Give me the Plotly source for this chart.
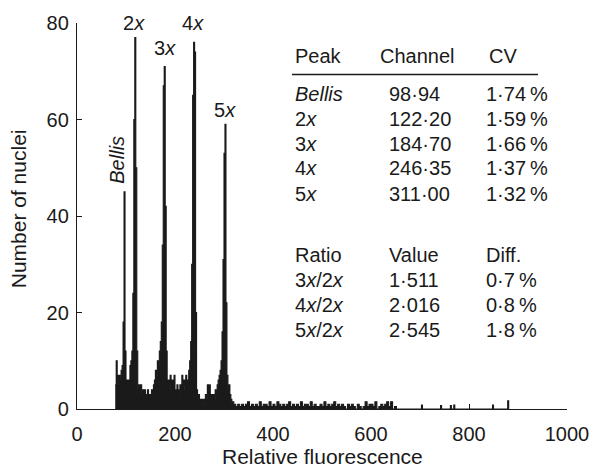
import plotly.graph_objects as go

# ---------------- data ----------------
# main region: 2-channel bins starting at channel 78
core_start = 78
core_width = 2
core_counts = [
    5, 10, 5, 7, 6, 7, 8, 9, 18, 45,      # 78-96
    12, 6, 4, 6, 5, 9, 10, 12, 24, 60,    # 98-116
    77, 50, 12, 4, 5, 4, 5, 3, 4, 3,      # 118-136
    4, 3, 2, 4, 3, 3, 2, 4, 3, 5,         # 138-156
    6, 8, 7, 10, 9, 12, 14, 18, 34, 67,   # 158-176
    71, 42, 12, 5, 6, 4, 7, 5, 6, 4,      # 178-196
    7, 3, 4, 5, 3, 4, 5, 3, 7, 5,         # 198-216
    6, 4, 7, 5, 6, 8, 10, 14, 30, 65,     # 218-236
    76, 74, 20, 4, 2, 3, 2, 1, 2, 2,      # 238-256
    1, 2, 3, 2, 5, 3, 5, 2, 3, 2,         # 258-276
    3, 2, 4, 3, 5, 6, 7, 8, 10, 16,       # 278-296
    31, 53, 59, 22, 7, 4, 5, 3, 2,        # 298-314
]

# low tail: 4-channel bins starting at channel 316
tail_start = 316
tail_width = 4
tail_counts = [
    1.5, 1, 0.5, 1, 0.5, 1, 0.5, 1, 1.5, 0.5,
    1, 0.5, 1, 0.5, 1.5, 0.5, 1, 1, 0.5, 1.5,
    0.5, 1, 0.5, 1.5, 1, 0.5, 1, 0.5, 1, 1.5,
    0.5, 1, 0.5, 1, 0.5, 1.5, 0.5, 1, 1, 0.5,
    1.5, 0.5, 1, 0.5, 0.5, 1, 0.5, 1.5, 0.5, 1,
    0.5, 1, 1.5, 0.5, 1, 0.5, 1, 0.5, 0, 1,
    0.5, 1, 0.5, 0, 1, 0.5, 0, 0.5, 1.5, 0.5,
    1, 1, 0.5, 1.5, 0, 0.5, 1, 0.5, 1, 1.5,
    0.5, 1.5, 0, 0.5,
]

# isolated events far out
far_channels = [703, 742, 762, 769, 848, 879]
far_counts = [0.8, 0.7, 0.7, 0.8, 0.8, 1.7]
far_width = 2

x_ticks = [0, 200, 400, 600, 800, 1000]
y_ticks = [0, 20, 40, 60, 80]

peak_names = ["<i>Bellis</i>", "2<i>x</i>", "3<i>x</i>", "4<i>x</i>", "5<i>x</i>"]
peak_channels = ["98·94", "122·20", "184·70", "246·35", "311·00"]
peak_cvs = ["1·74\u2009%", "1·59\u2009%", "1·66\u2009%", "1·37\u2009%", "1·32\u2009%"]

ratio_names = ["3<i>x</i>/2<i>x</i>", "4<i>x</i>/2<i>x</i>", "5<i>x</i>/2<i>x</i>"]
ratio_values = ["1·511", "2·016", "2·545"]
ratio_diffs = ["0·7\u2009%", "0·8\u2009%", "1·8\u2009%"]

# ---------------- build step outline ----------------
segments = []
for i, c in enumerate(core_counts):
    x0 = core_start + i * core_width
    segments.append((x0, x0 + core_width, c))
for i, c in enumerate(tail_counts):
    x0 = tail_start + i * tail_width
    segments.append((x0, x0 + tail_width, c))
for ch, c in zip(far_channels, far_counts):
    segments.append((ch, ch + far_width, c))
segments.sort()

xs, ys = [], []
prev_end = None
for x0, x1, c in segments:
    if prev_end is not None and x0 > prev_end:
        xs.append(prev_end)
        ys.append(0)
    xs.append(x0)
    ys.append(c)
    prev_end = x1
xs.append(prev_end)
ys.append(0)

INK = "#1a1a1a"
FONT = "Liberation Sans, Arial, Helvetica, sans-serif"

fig = go.Figure()
fig.add_trace(go.Scatter(
    x=xs, y=ys, mode="lines", line=dict(shape="hv", color=INK, width=1.1),
    fill="tozeroy", fillcolor=INK, hoverinfo="skip", showlegend=False,
))

axis_common = dict(
    showline=True, linecolor=INK, linewidth=1.3, ticks="inside", ticklen=5,
    tickwidth=1.2, tickcolor=INK, showgrid=False, zeroline=False, automargin=False,
    tickfont=dict(size=20, color=INK, family=FONT),
)
fig.update_xaxes(range=[0, 1000], tickvals=x_ticks, ticklabelstandoff=7, **axis_common)
fig.update_yaxes(range=[0, 80], tickvals=y_ticks, ticklabelstandoff=3, **axis_common)

ann = []
def text(x, y, s, size=20, xanchor="left", angle=0):
    ann.append(dict(x=x, y=y, xref="paper", yref="paper", text=s, showarrow=False,
                    xanchor=xanchor, yanchor="middle", textangle=angle,
                    font=dict(size=size, color=INK, family=FONT)))

# axis titles
text(0.5, -0.123, "Relative fluorescence", size=21, xanchor="center")
text(-0.120, 0.518, "Number of nuclei", size=21, xanchor="center", angle=-90)

# peak labels
text(0.1163, 1.0, "2<i>x</i>", xanchor="center")
text(0.1796, 0.935, "3<i>x</i>", xanchor="center")
text(0.2367, 1.0, "4<i>x</i>", xanchor="center")
text(0.302, 0.775, "5<i>x</i>", xanchor="center")
text(0.081, 0.645, "<i>Bellis</i>", xanchor="center", angle=-90)

# table
col1, col2, col2v, col3 = 0.440, 0.614, 0.633, 0.831
text(col1, 0.9145, "Peak")
text(col2, 0.9145, "Channel")
text(0.836, 0.9145, "CV")
row_y = [0.816, 0.751, 0.687, 0.624, 0.557]
for yy, n, ch, cv in zip(row_y, peak_names, peak_channels, peak_cvs):
    text(col1, yy, n)
    text(col2v, yy, ch)
    text(col3, yy, cv)

text(col1, 0.399, "Ratio")
text(col2v, 0.399, "Value")
text(col3, 0.399, "Diff.")
ratio_y = [0.334, 0.269, 0.205]
for yy, n, v, d in zip(ratio_y, ratio_names, ratio_values, ratio_diffs):
    text(col1, yy, n)
    text(col2v, yy, v)
    text(col3, yy, d)

fig.update_layout(
    width=590, height=467,
    margin=dict(l=77, r=23, t=23, b=58),
    paper_bgcolor="white", plot_bgcolor="white",
    font=dict(family=FONT, color=INK, size=20),
    annotations=ann,
    shapes=[dict(type="line", xref="paper", yref="paper", x0=0.4388, x1=0.9408,
                 y0=0.8666, y1=0.8666, line=dict(color=INK, width=1.3))],
    showlegend=False,
)

fig.write_html(
    "out.html",
    config={"displayModeBar": False},
    post_script="document.body.style.margin='0';document.body.style.overflow='hidden';",
)
